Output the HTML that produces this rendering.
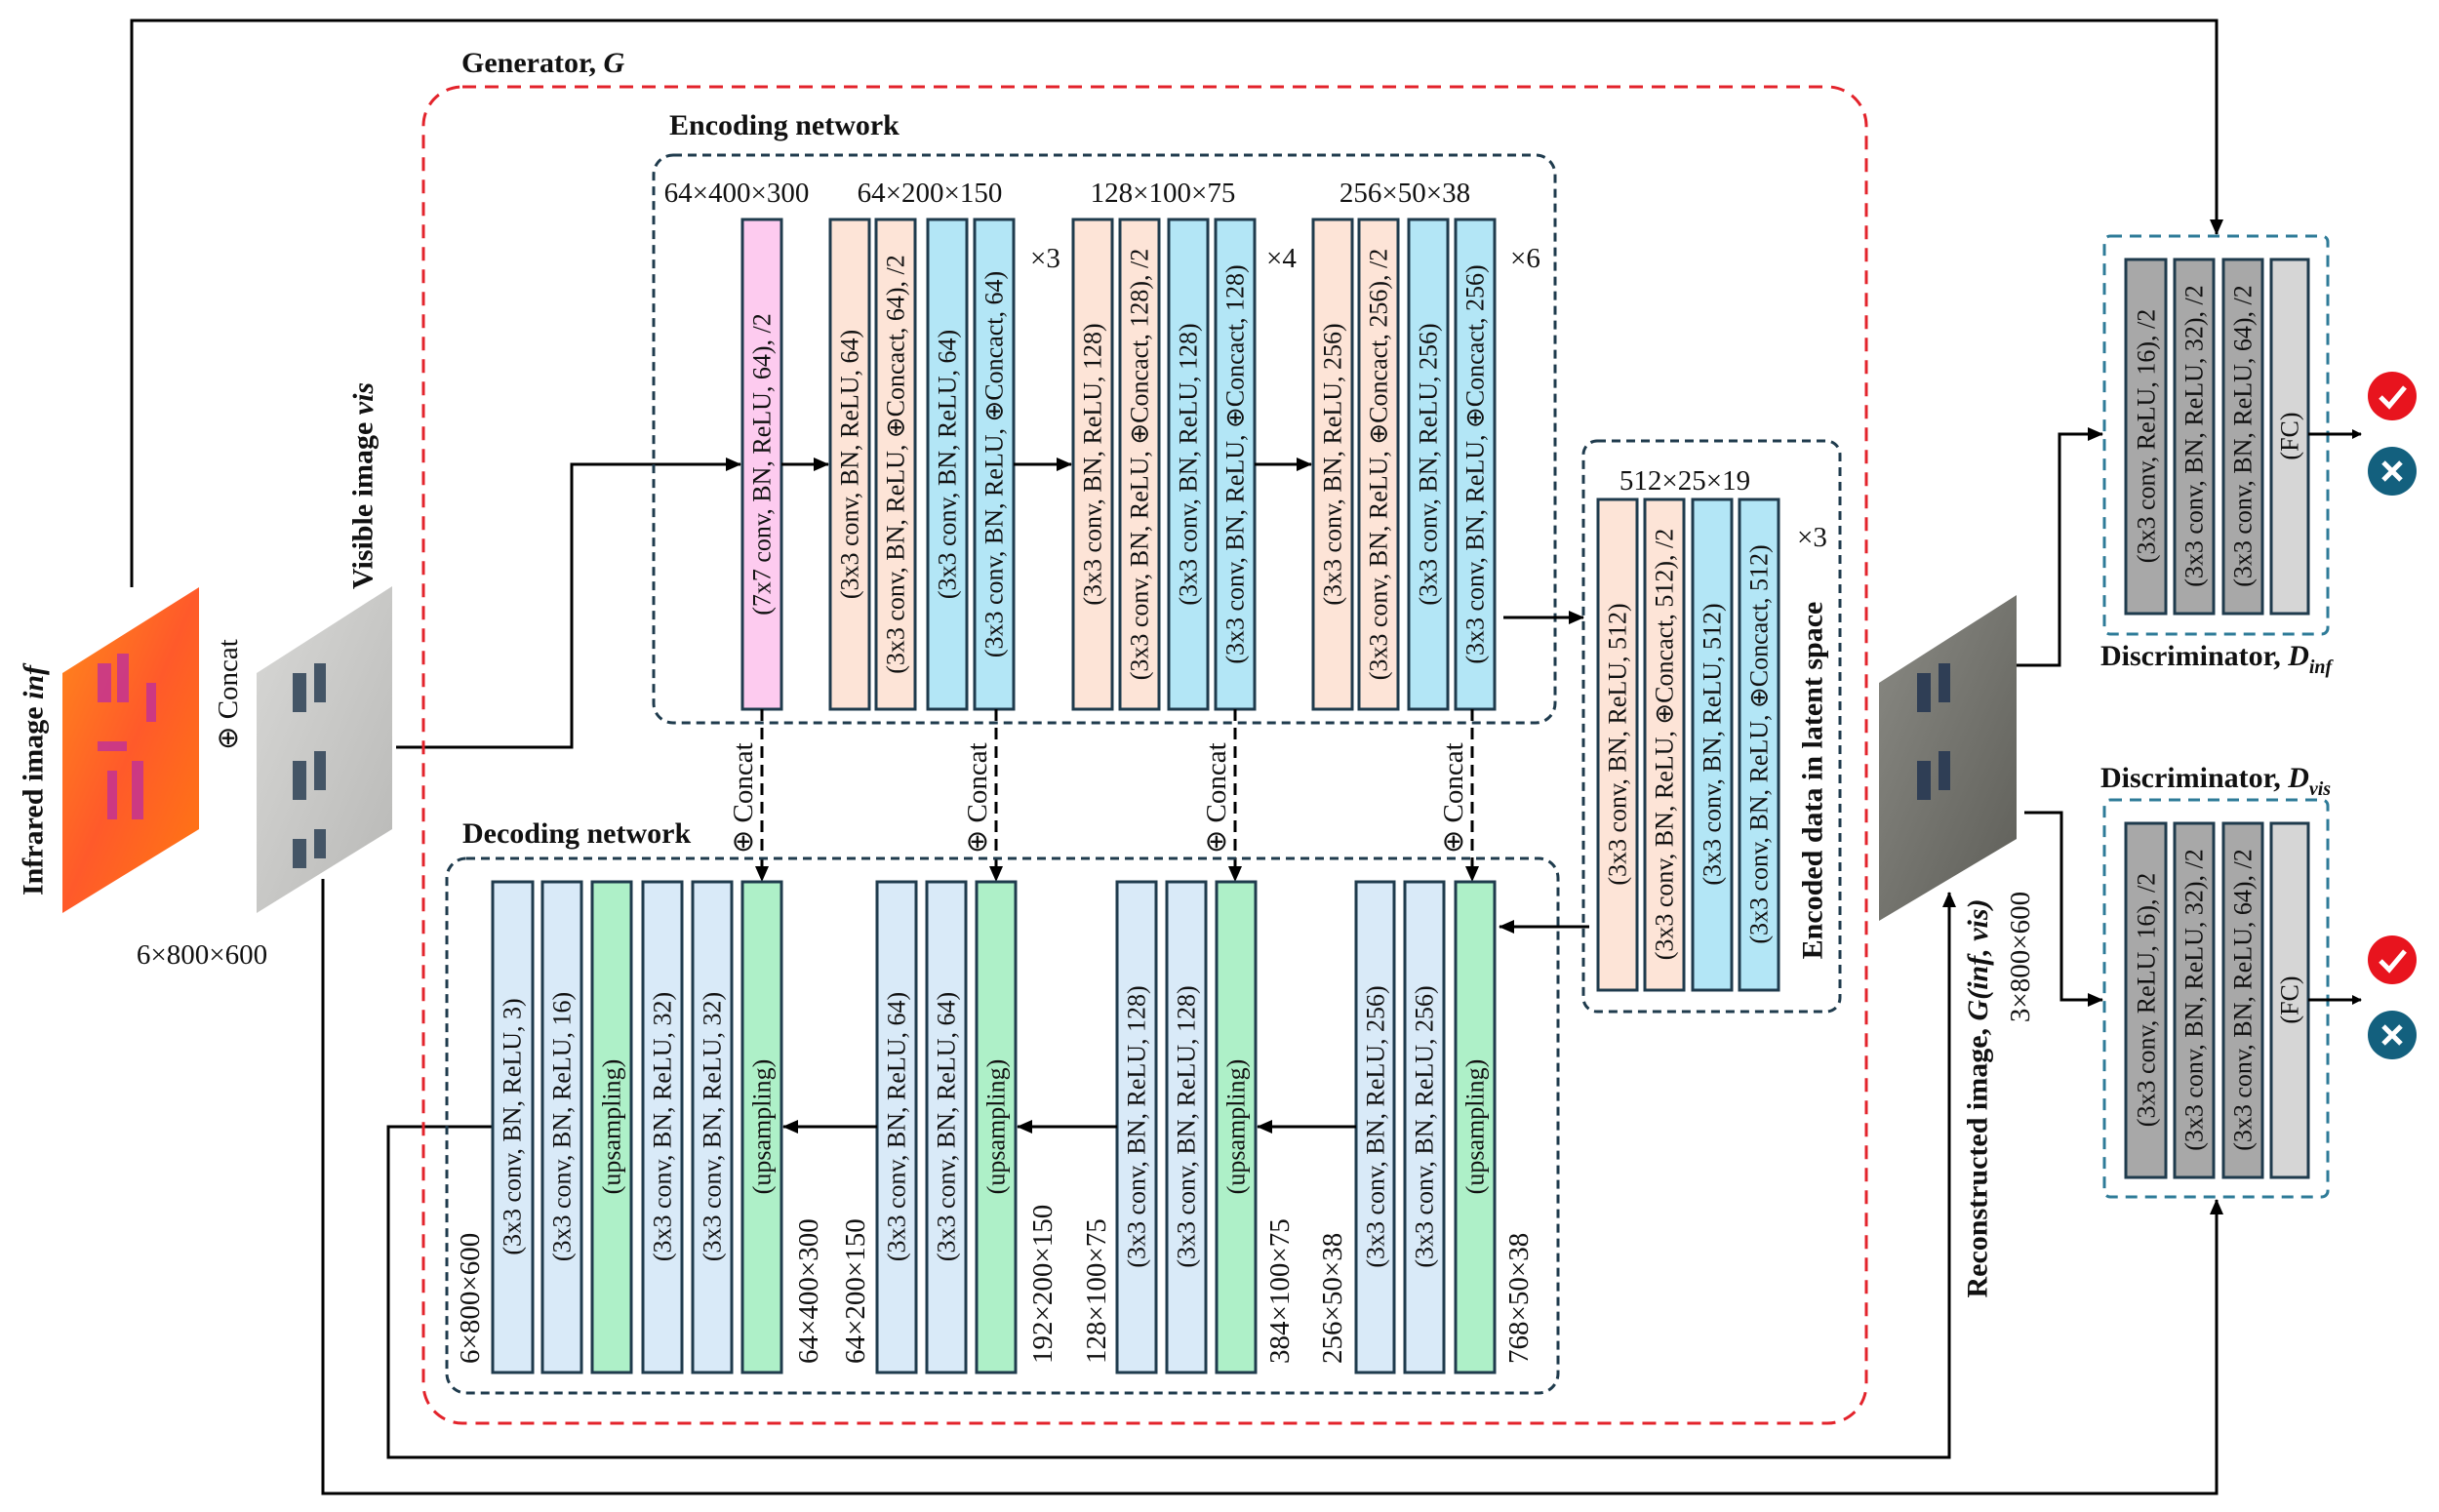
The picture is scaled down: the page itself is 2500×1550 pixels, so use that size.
<!DOCTYPE html>
<html><head><meta charset="utf-8"><style>
html,body{margin:0;padding:0;background:#fff}
svg{display:block}
text{font-family:"Liberation Serif",serif;fill:#111}
.b{font-size:26px}
.d{font-size:29px}
.h{font-size:30px;font-weight:bold}
</style></head><body>
<svg width="2500" height="1550" viewBox="0 0 2500 1550" xmlns="http://www.w3.org/2000/svg">
<defs>
<marker id="a" markerWidth="10" markerHeight="10" refX="9" refY="5" orient="auto" markerUnits="userSpaceOnUse"><path d="M0,0 L10,5 L0,10 z" fill="#000"/></marker>
<marker id="a2" markerWidth="16" markerHeight="14" refX="15" refY="7" orient="auto" markerUnits="userSpaceOnUse"><path d="M0,0 L16,7 L0,14 z" fill="#000"/></marker>
<linearGradient id="ir" x1="0" y1="0" x2="1" y2="1"><stop offset="0" stop-color="#ff8a1a"/><stop offset="0.5" stop-color="#ff5a2a"/><stop offset="1" stop-color="#ff7a10"/></linearGradient>
<linearGradient id="vs" x1="0" y1="0" x2="1" y2="1"><stop offset="0" stop-color="#d8d8d6"/><stop offset="1" stop-color="#b8b8b6"/></linearGradient>
<linearGradient id="rc" x1="0" y1="0" x2="1" y2="1"><stop offset="0" stop-color="#8a8a84"/><stop offset="1" stop-color="#5e5e58"/></linearGradient>
</defs>

<polyline points="135,602 135,21 2272,21 2272,240" fill="none" stroke="#000" stroke-width="3" marker-end="url(#a2)"/>
<polyline points="331,901 331,1531 2272,1531 2272,1230" fill="none" stroke="#000" stroke-width="3" marker-end="url(#a2)"/>
<polyline points="505,1155 398,1155 398,1494 1998,1494 1998,915" fill="none" stroke="#000" stroke-width="3" marker-end="url(#a2)"/>
<polyline points="406,766 586,766 586,476 759,476" fill="none" stroke="#000" stroke-width="3" marker-end="url(#a2)"/>

<rect x="434" y="89" width="1479" height="1370" rx="40" fill="none" stroke="#e3232b" stroke-width="3" stroke-dasharray="14,9"/>
<text x="473" y="74" class="h">Generator, <tspan font-style="italic">G</tspan></text>

<rect x="670" y="159" width="924" height="582" rx="20" fill="none" stroke="#1f3b4d" stroke-width="3" stroke-dasharray="9,6"/>
<text x="686" y="138" class="h">Encoding network</text>
<text x="755" y="207" class="d" text-anchor="middle">64×400×300</text>
<text x="953" y="207" class="d" text-anchor="middle">64×200×150</text>
<text x="1192" y="207" class="d" text-anchor="middle">128×100×75</text>
<text x="1440" y="207" class="d" text-anchor="middle">256×50×38</text>
<text x="1056" y="274" class="d">×3</text>
<text x="1298" y="274" class="d">×4</text>
<text x="1548" y="274" class="d">×6</text>

<g stroke="#1f3b4d" stroke-width="3">
<rect x="761" y="225" width="40" height="502" fill="#fdcbef"/>
<rect x="851" y="225" width="40" height="502" fill="#fde4d7"/>
<rect x="898" y="225" width="40" height="502" fill="#fde4d7"/>
<rect x="951" y="225" width="40" height="502" fill="#b3e6f6"/>
<rect x="999" y="225" width="40" height="502" fill="#b3e6f6"/>
<rect x="1100" y="225" width="40" height="502" fill="#fde4d7"/>
<rect x="1148" y="225" width="40" height="502" fill="#fde4d7"/>
<rect x="1198" y="225" width="40" height="502" fill="#b3e6f6"/>
<rect x="1246" y="225" width="40" height="502" fill="#b3e6f6"/>
<rect x="1346" y="225" width="40" height="502" fill="#fde4d7"/>
<rect x="1393" y="225" width="40" height="502" fill="#fde4d7"/>
<rect x="1444" y="225" width="40" height="502" fill="#b3e6f6"/>
<rect x="1492" y="225" width="40" height="502" fill="#b3e6f6"/>
</g>
<g class="b" text-anchor="middle" dominant-baseline="central">
<text transform="translate(781,476) rotate(-90)">(7x7 conv, BN, ReLU, 64), /2</text>
<text transform="translate(871,476) rotate(-90)">(3x3 conv, BN, ReLU, 64)</text>
<text transform="translate(918,476) rotate(-90)">(3x3 conv, BN, ReLU, ⊕Concact, 64), /2</text>
<text transform="translate(971,476) rotate(-90)">(3x3 conv, BN, ReLU, 64)</text>
<text transform="translate(1019,476) rotate(-90)">(3x3 conv, BN, ReLU, ⊕Concact, 64)</text>
<text transform="translate(1120,476) rotate(-90)">(3x3 conv, BN, ReLU, 128)</text>
<text transform="translate(1168,476) rotate(-90)">(3x3 conv, BN, ReLU, ⊕Concact, 128), /2</text>
<text transform="translate(1218,476) rotate(-90)">(3x3 conv, BN, ReLU, 128)</text>
<text transform="translate(1266,476) rotate(-90)">(3x3 conv, BN, ReLU, ⊕Concact, 128)</text>
<text transform="translate(1366,476) rotate(-90)">(3x3 conv, BN, ReLU, 256)</text>
<text transform="translate(1413,476) rotate(-90)">(3x3 conv, BN, ReLU, ⊕Concact, 256), /2</text>
<text transform="translate(1464,476) rotate(-90)">(3x3 conv, BN, ReLU, 256)</text>
<text transform="translate(1512,476) rotate(-90)">(3x3 conv, BN, ReLU, ⊕Concact, 256)</text>
</g>
<g stroke="#000" stroke-width="3" fill="none">
<line x1="801" y1="476" x2="849" y2="476" marker-end="url(#a2)"/>
<line x1="1039" y1="476" x2="1098" y2="476" marker-end="url(#a2)"/>
<line x1="1286" y1="476" x2="1344" y2="476" marker-end="url(#a2)"/>
<line x1="1541" y1="633" x2="1623" y2="633" marker-end="url(#a2)"/>
<line x1="1629" y1="950" x2="1537" y2="950" marker-end="url(#a2)"/>
</g>

<rect x="1623" y="452" width="263" height="585" rx="14" fill="none" stroke="#1f3b4d" stroke-width="3" stroke-dasharray="9,6"/>
<text x="1727" y="502" class="d" text-anchor="middle">512×25×19</text>
<text x="1842" y="560" class="d">×3</text>
<g stroke="#1f3b4d" stroke-width="3">
<rect x="1638" y="512" width="40" height="503" fill="#fde4d7"/>
<rect x="1686" y="512" width="40" height="503" fill="#fde4d7"/>
<rect x="1735" y="512" width="40" height="503" fill="#b3e6f6"/>
<rect x="1783" y="512" width="40" height="503" fill="#b3e6f6"/>
</g>
<g class="b" text-anchor="middle" dominant-baseline="central">
<text transform="translate(1658,763) rotate(-90)">(3x3 conv, BN, ReLU, 512)</text>
<text transform="translate(1706,763) rotate(-90)">(3x3 conv, BN, ReLU, ⊕Concact, 512), /2</text>
<text transform="translate(1755,763) rotate(-90)">(3x3 conv, BN, ReLU, 512)</text>
<text transform="translate(1803,763) rotate(-90)">(3x3 conv, BN, ReLU, ⊕Concact, 512)</text>
</g>
<text transform="translate(1858,800) rotate(-90)" class="h" text-anchor="middle" dominant-baseline="central">Encoded data in latent space</text>

<g stroke="#000" stroke-width="3" stroke-dasharray="12,7" fill="none">
<line x1="781" y1="727" x2="781" y2="890"/>
<line x1="1021" y1="727" x2="1021" y2="890"/>
<line x1="1266" y1="727" x2="1266" y2="890"/>
<line x1="1509" y1="727" x2="1509" y2="890"/>
</g>
<g fill="#000">
<path d="M774,888 L788,888 L781,904 z"/><path d="M1014,888 L1028,888 L1021,904 z"/>
<path d="M1259,888 L1273,888 L1266,904 z"/><path d="M1502,888 L1516,888 L1509,904 z"/>
</g>
<g class="d" text-anchor="start" dominant-baseline="central">
<text transform="translate(762,875) rotate(-90)">⊕ Concat</text>
<text transform="translate(1002,875) rotate(-90)">⊕ Concat</text>
<text transform="translate(1247,875) rotate(-90)">⊕ Concat</text>
<text transform="translate(1490,875) rotate(-90)">⊕ Concat</text>
</g>

<rect x="458" y="880" width="1139" height="548" rx="20" fill="none" stroke="#1f3b4d" stroke-width="3" stroke-dasharray="9,6"/>
<text x="474" y="864" class="h">Decoding network</text>
<g stroke="#1f3b4d" stroke-width="3">
<rect x="505" y="904" width="41" height="503" fill="#d9eaf8"/>
<rect x="556" y="904" width="40" height="503" fill="#d9eaf8"/>
<rect x="607" y="904" width="40" height="503" fill="#aef0c8"/>
<rect x="659" y="904" width="40" height="503" fill="#d9eaf8"/>
<rect x="710" y="904" width="40" height="503" fill="#d9eaf8"/>
<rect x="761" y="904" width="40" height="503" fill="#aef0c8"/>
<rect x="899" y="904" width="40" height="503" fill="#d9eaf8"/>
<rect x="950" y="904" width="40" height="503" fill="#d9eaf8"/>
<rect x="1001" y="904" width="40" height="503" fill="#aef0c8"/>
<rect x="1145" y="904" width="40" height="503" fill="#d9eaf8"/>
<rect x="1196" y="904" width="40" height="503" fill="#d9eaf8"/>
<rect x="1247" y="904" width="40" height="503" fill="#aef0c8"/>
<rect x="1390" y="904" width="39" height="503" fill="#d9eaf8"/>
<rect x="1440" y="904" width="40" height="503" fill="#d9eaf8"/>
<rect x="1492" y="904" width="40" height="503" fill="#aef0c8"/>
</g>
<g class="b" text-anchor="middle" dominant-baseline="central">
<text transform="translate(525,1155) rotate(-90)">(3x3 conv, BN, ReLU, 3)</text>
<text transform="translate(576,1155) rotate(-90)">(3x3 conv, BN, ReLU, 16)</text>
<text transform="translate(627,1155) rotate(-90)">(upsampling)</text>
<text transform="translate(679,1155) rotate(-90)">(3x3 conv, BN, ReLU, 32)</text>
<text transform="translate(730,1155) rotate(-90)">(3x3 conv, BN, ReLU, 32)</text>
<text transform="translate(781,1155) rotate(-90)">(upsampling)</text>
<text transform="translate(919,1155) rotate(-90)">(3x3 conv, BN, ReLU, 64)</text>
<text transform="translate(970,1155) rotate(-90)">(3x3 conv, BN, ReLU, 64)</text>
<text transform="translate(1021,1155) rotate(-90)">(upsampling)</text>
<text transform="translate(1165,1155) rotate(-90)">(3x3 conv, BN, ReLU, 128)</text>
<text transform="translate(1216,1155) rotate(-90)">(3x3 conv, BN, ReLU, 128)</text>
<text transform="translate(1267,1155) rotate(-90)">(upsampling)</text>
<text transform="translate(1410,1155) rotate(-90)">(3x3 conv, BN, ReLU, 256)</text>
<text transform="translate(1460,1155) rotate(-90)">(3x3 conv, BN, ReLU, 256)</text>
<text transform="translate(1512,1155) rotate(-90)">(upsampling)</text>
</g>
<g class="d" text-anchor="start" dominant-baseline="central">
<text transform="translate(482,1398) rotate(-90)">6×800×600</text>
<text transform="translate(829,1398) rotate(-90)">64×400×300</text>
<text transform="translate(877,1398) rotate(-90)">64×200×150</text>
<text transform="translate(1069,1398) rotate(-90)">192×200×150</text>
<text transform="translate(1124,1398) rotate(-90)">128×100×75</text>
<text transform="translate(1312,1398) rotate(-90)">384×100×75</text>
<text transform="translate(1366,1398) rotate(-90)">256×50×38</text>
<text transform="translate(1557,1398) rotate(-90)">768×50×38</text>
</g>
<g stroke="#000" stroke-width="3" fill="none">
<line x1="1145" y1="1155" x2="1043" y2="1155" marker-end="url(#a2)"/>
<line x1="899" y1="1155" x2="803" y2="1155" marker-end="url(#a2)"/>
<line x1="1390" y1="1155" x2="1289" y2="1155" marker-end="url(#a2)"/>
</g>

<polygon points="64,690 204,602 204,850 64,936" fill="url(#ir)"/>
<g fill="#c0309a" opacity="0.8">
<rect x="100" y="680" width="14" height="40"/><rect x="120" y="670" width="12" height="50"/><rect x="100" y="760" width="30" height="10"/>
<rect x="110" y="790" width="10" height="50"/><rect x="135" y="780" width="12" height="60"/><rect x="150" y="700" width="10" height="40"/>
</g>
<polygon points="263,690 402,601 402,850 263,936" fill="url(#vs)"/>
<g fill="#445566">
<rect x="300" y="690" width="14" height="40"/><rect x="322" y="680" width="12" height="40"/>
<rect x="300" y="780" width="14" height="40"/><rect x="322" y="770" width="12" height="40"/>
<rect x="300" y="860" width="14" height="30"/><rect x="322" y="850" width="12" height="30"/>
</g>
<polygon points="1926,700 2067,610 2067,860 1926,944" fill="url(#rc)"/>
<g fill="#2f3e55">
<rect x="1965" y="690" width="14" height="40"/><rect x="1987" y="680" width="12" height="40"/>
<rect x="1965" y="780" width="14" height="40"/><rect x="1987" y="770" width="12" height="40"/>
</g>
<text transform="translate(34,800) rotate(-90)" class="h" text-anchor="middle" dominant-baseline="central">Infrared image <tspan font-style="italic">inf</tspan></text>
<text transform="translate(234,712) rotate(-90)" class="d" text-anchor="middle" dominant-baseline="central">⊕ Concat</text>
<text transform="translate(372,498) rotate(-90)" class="h" text-anchor="middle" dominant-baseline="central">Visible image <tspan font-style="italic">vis</tspan></text>
<text x="207" y="988" class="d" text-anchor="middle">6×800×600</text>
<text transform="translate(2027,1126) rotate(-90)" class="h" text-anchor="middle" dominant-baseline="central">Reconstructed image, <tspan font-style="italic">G(inf, vis)</tspan></text>
<text transform="translate(2071,981) rotate(-90)" class="d" text-anchor="middle" dominant-baseline="central">3×800×600</text>

<g stroke="#2e7b98" stroke-width="3" stroke-dasharray="12,8" fill="none">
<rect x="2157" y="242" width="229" height="408" rx="6"/>
<rect x="2157" y="820" width="229" height="407" rx="6"/>
</g>
<g stroke="#1f3b4d" stroke-width="3">
<rect x="2179" y="266" width="41" height="363" fill="#a8a8a8"/>
<rect x="2229" y="266" width="40" height="363" fill="#a8a8a8"/>
<rect x="2279" y="266" width="40" height="363" fill="#a8a8a8"/>
<rect x="2328" y="266" width="38" height="363" fill="#d6d6d6"/>
<rect x="2179" y="844" width="41" height="363" fill="#a8a8a8"/>
<rect x="2229" y="844" width="40" height="363" fill="#a8a8a8"/>
<rect x="2279" y="844" width="40" height="363" fill="#a8a8a8"/>
<rect x="2328" y="844" width="38" height="363" fill="#d6d6d6"/>
</g>
<g class="b" text-anchor="middle" dominant-baseline="central">
<text transform="translate(2200,447) rotate(-90)">(3x3 conv, ReLU, 16), /2</text>
<text transform="translate(2249,447) rotate(-90)">(3x3 conv, BN, ReLU, 32), /2</text>
<text transform="translate(2299,447) rotate(-90)">(3x3 conv, BN, ReLU, 64), /2</text>
<text transform="translate(2347,447) rotate(-90)">(FC)</text>
<text transform="translate(2200,1025) rotate(-90)">(3x3 conv, ReLU, 16), /2</text>
<text transform="translate(2249,1025) rotate(-90)">(3x3 conv, BN, ReLU, 32), /2</text>
<text transform="translate(2299,1025) rotate(-90)">(3x3 conv, BN, ReLU, 64), /2</text>
<text transform="translate(2347,1025) rotate(-90)">(FC)</text>
</g>
<text x="2153" y="682" class="h">Discriminator, <tspan font-style="italic">D</tspan><tspan font-style="italic" font-size="20" dy="8">inf</tspan></text>
<text x="2153" y="807" class="h">Discriminator, <tspan font-style="italic">D</tspan><tspan font-style="italic" font-size="20" dy="8">vis</tspan></text>
<g stroke="#000" stroke-width="3" fill="none">
<polyline points="2067,682 2111,682 2111,445 2155,445" marker-end="url(#a2)"/>
<polyline points="2075,833 2113,833 2113,1025 2155,1025" marker-end="url(#a2)"/>
<line x1="2366" y1="445" x2="2420" y2="445" marker-end="url(#a)"/>
<line x1="2366" y1="1025" x2="2420" y2="1025" marker-end="url(#a)"/>
</g>
<circle cx="2452" cy="406" r="25" fill="#e8141e"/>
<path d="M2440,407 L2449,416 L2465,397" fill="none" stroke="#fff" stroke-width="5"/>
<circle cx="2452" cy="483" r="25" fill="#13607e"/>
<path d="M2443,474 L2461,492 M2461,474 L2443,492" stroke="#fff" stroke-width="5"/>
<circle cx="2452" cy="984" r="25" fill="#e8141e"/>
<path d="M2440,985 L2449,994 L2465,975" fill="none" stroke="#fff" stroke-width="5"/>
<circle cx="2452" cy="1061" r="25" fill="#13607e"/>
<path d="M2443,1052 L2461,1070 M2461,1052 L2443,1070" stroke="#fff" stroke-width="5"/>
</svg>
</body></html>
